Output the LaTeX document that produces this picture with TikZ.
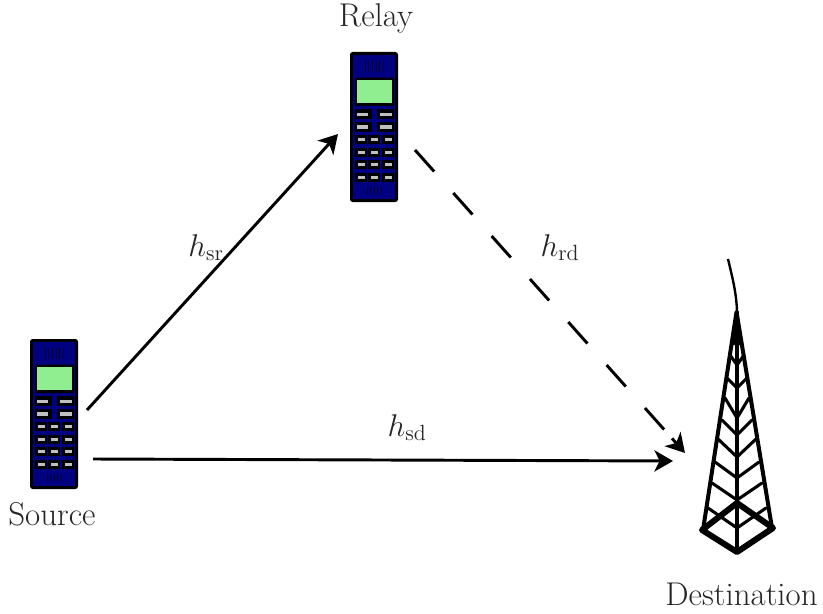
\documentclass[tikz,border=0pt]{standalone}
\usepackage{fix-cm}
\usetikzlibrary{arrows.meta}
\definecolor{phoneblue}{RGB}{0,0,128}
\definecolor{phonegreen}{RGB}{144,238,144}
\definecolor{keygray}{RGB}{192,192,192}
\DeclareMathSizes{24.7}{23.6}{16.5}{11.8}
\tikzset{
  x=0.75pt,y=-0.75pt,
  lbl/.style={font=\fontsize{24.7}{29}\selectfont,inner sep=0pt,text=black!85,anchor=base},
  link/.style={line width=2.2pt,-{Stealth[length=14pt,width=16pt,inset=4pt]}},
  dashlink/.style={line width=2.2pt,dash pattern=on 21.6pt off 21.6pt},
  twr/.style={line width=2.3pt,line cap=round,line join=round},
  twrl/.style={line width=3pt,line cap=round,line join=round},
  twrb/.style={line width=4.5pt,line cap=round,line join=round},
  phone/.pic={
    \fill[black,rounded corners=2pt] (0,0) rectangle (48,150);
    \fill[phoneblue] (3,3) rectangle (45,147);
    \foreach \i in {15,18.6,22.2,25.8,29.4,33}
      \draw[black!60!phoneblue,line width=0.35pt] (\i,9) -- (\i,20);
    \foreach \i in {17,20.5,24,27.5,31}
      \draw[black!60!phoneblue,line width=0.35pt] (\i,135) -- (\i,142);
    \fill[black,rounded corners=1pt] (5,25.7) rectangle (44,54);
    \fill[phonegreen] (7.3,28.3) rectangle (41.7,51.3);
    \foreach \r in {57.3,70}{
      \fill[black] (5,\r) rectangle (21.7,\r+10);
      \fill[black] (27.3,\r) rectangle (44,\r+10);
      \fill[keygray] (7.3,\r+3.3) rectangle (18.3,\r+6.7);
      \fill[keygray] (30,\r+3.3) rectangle (41.7,\r+6.7);
    }
    \foreach \r in {82.7,95.5,108.2,121}
      \foreach \c in {5,18.4,32.3}{
        \fill[black] (\c,\r) rectangle (\c+11.7,\r+9);
        \fill[keygray] (\c+2.5,\r+3) rectangle (\c+9.5,\r+6);
      }
  }
}
\begin{document}
\begin{tikzpicture}
\useasboundingbox (0,0) rectangle (823,613);
\pic at (30,339) {phone};
\pic at (350,52) {phone};
% tower
\draw[line width=1.8pt] (728,259) .. controls (733,280) and (736,292) .. (737,310);
\fill (736.8,303) -- (731,345) -- (743,345) -- cycle;
\draw[twrl] (703,530) -- (736.5,312) -- (772,528);
\draw[twrl] (737,312) -- (737,552);
\foreach \yc/\xl/\yl/\xr/\yr in {
  528/708/508/766/508,
  500/712/483/762/483,
  478/715/462/759/462,
  457/718/439/756/439,
  435/722/420/752/420,
  418/725/398/749/398,
  388/727/378/747/378,
  365/730/355/744/355}{
  \draw[twr] (737,\yc) -- (\xl,\yl);
  \draw[twr] (737,\yc) -- (\xr,\yr);
}
\draw[twrb] (702,530) -- (737,552) -- (773,528) -- (737,503) -- cycle;
% nodes
\node[lbl] (srcl) at (52,525) {Source};
\node[lbl] (rell) at (376,27) {Relay};
\node[lbl] (dstl) at (741.5,605) {Destination};
\coordinate (srA) at (87,410);
\coordinate (srB) at (338,134);
\coordinate (sdA) at (93,459);
\coordinate (sdB) at (673,461);
\coordinate (rdA) at (415,150);
\coordinate (rdM) at (672,438.4);
\coordinate (rdB) at (685,453);
\draw[link] (srA) -- (srB);
\draw[link] (sdA) -- (sdB);
\draw[dashlink] (rdA) -- (rdM);
\draw[link] (rdM) -- (rdB);
\node[lbl] (hsr) at (206,256) {$h_{\mathrm{sr}}$};
\node[lbl] (hrd) at (560,256) {$h_{\mathrm{rd}}$};
\node[lbl] (hsd) at (407,436) {$h_{\mathrm{sd}}$};
\end{tikzpicture}
\end{document}
